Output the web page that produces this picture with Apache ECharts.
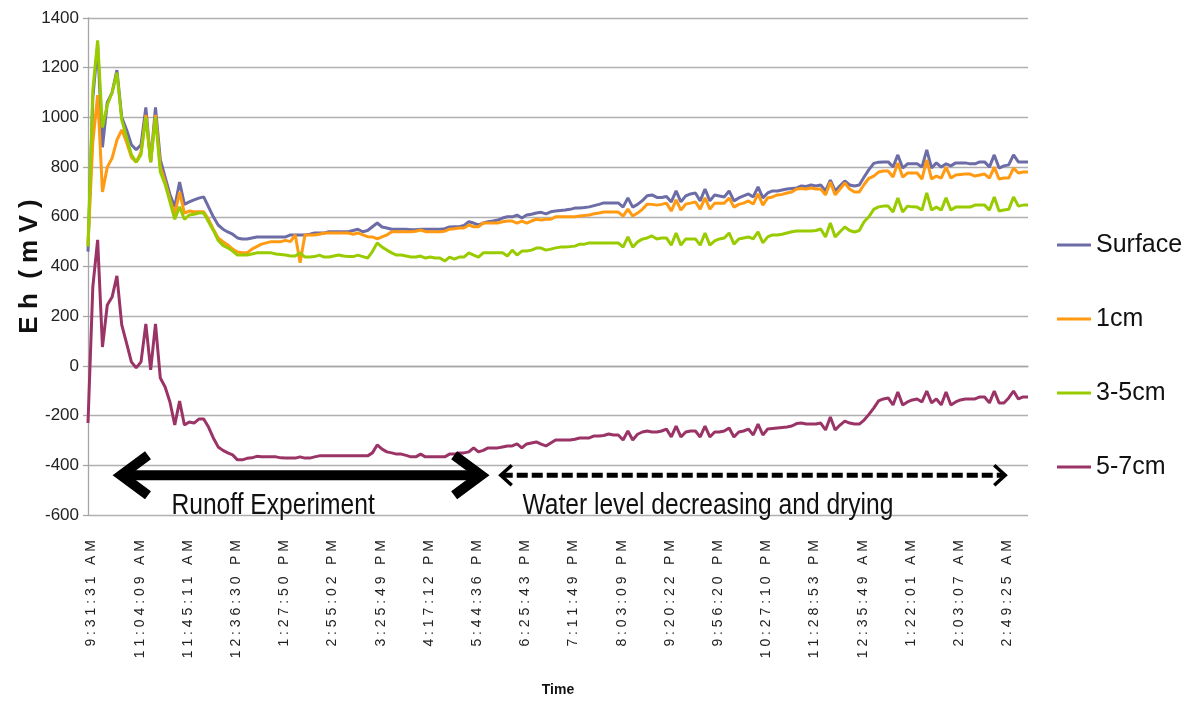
<!DOCTYPE html>
<html>
<head>
<meta charset="utf-8">
<script src="https://cdn.jsdelivr.net/npm/echarts@6/dist/echarts.min.js"></script>
<style>
  html, body { margin: 0; padding: 0; background: #fff; }
  #chart { width: 1190px; height: 702px; }
</style>
</head>
<body>
<div id="chart"></div>
<script>
// Time stamps shown under every 10th reading
const tickLabels = [
  "9:31:31 AM", "11:04:09 AM", "11:45:11 AM", "12:36:30 PM", "1:27:50 PM",
  "2:55:02 PM", "3:25:49 PM", "4:17:12 PM", "5:44:36 PM", "6:25:43 PM",
  "7:11:49 PM", "8:03:09 PM", "9:20:22 PM", "9:56:20 PM", "10:27:10 PM",
  "11:28:53 PM", "12:35:49 AM", "1:22:01 AM", "2:03:07 AM", "2:49:25 AM"
];

const seriesNames = ["Surface", "1cm", "3-5cm", "5-7cm"];

// Eh readings (mV), one per logged time step
const surface = [
  460, 1080, 1290, 880, 1060, 1100, 1190, 1000, 950, 890,
  870, 890, 1040, 820, 1040, 830, 760, 690, 640, 740,
  650, 660, 668, 675, 680, 640, 600, 567, 550, 539,
  530, 515, 511, 511, 515, 519, 519, 519, 519, 519,
  519, 519, 527, 527, 527, 527, 530, 535, 535, 535,
  540, 540, 540, 540, 540, 545, 550, 540, 545, 560,
  575, 559, 555, 550, 550, 550, 550, 548, 548, 550,
  550, 550, 550, 550, 552, 559, 560, 560, 565, 580,
  575, 567, 575, 580, 583, 587, 595, 600, 600, 607,
  595, 607, 610, 615, 618, 612, 620, 623, 625, 627,
  630, 635, 635, 637, 640, 645, 650, 656, 656, 656,
  656, 639, 676, 639, 650, 665, 685, 688, 678, 678,
  682, 660, 704, 660, 684, 692, 696, 664, 712, 664,
  688, 684, 680, 704, 664, 676, 684, 692, 680, 720,
  676, 696, 704, 704, 708, 712, 714, 716, 724, 722,
  728, 724, 728, 704, 748, 704, 725, 744, 728, 724,
  728, 760, 790, 815, 820, 821, 821, 800, 849, 796,
  813, 813, 813, 800, 869, 796, 817, 800, 813, 805,
  817, 817, 817, 813, 813, 821, 821, 800, 849, 796,
  805, 809, 849, 821, 821, 821
];

const cm1 = [
  490, 900, 1090, 700, 800, 836, 909, 950, 900, 840,
  820, 860, 1010, 820, 1010, 800, 740, 670, 610, 700,
  615, 623, 620, 620, 620, 590, 550, 515, 500, 487,
  470, 458, 455, 455, 470, 480, 490, 495, 500, 500,
  500, 505, 500, 527, 415, 527, 527, 527, 530, 535,
  535, 535, 535, 535, 535, 530, 535, 527, 520, 519,
  511, 519, 527, 540, 540, 540, 540, 540, 542, 547,
  540, 540, 540, 540, 542, 550, 552, 555, 555, 567,
  560, 560, 575, 575, 575, 575, 580, 583, 583, 575,
  583, 575, 583, 590, 587, 590, 590, 600, 600, 600,
  600, 600, 603, 605, 607, 612, 615, 619, 619, 619,
  619, 603, 631, 603, 615, 630, 651, 650, 647, 650,
  655, 623, 668, 627, 651, 655, 660, 631, 676, 631,
  655, 655, 655, 676, 639, 650, 655, 664, 651, 692,
  647, 676, 680, 688, 690, 696, 700, 712, 714, 712,
  716, 712, 712, 688, 740, 688, 712, 736, 712, 700,
  700, 730, 755, 764, 780, 784, 784, 760, 817, 760,
  776, 776, 776, 752, 829, 752, 764, 756, 800, 756,
  768, 770, 772, 772, 764, 768, 772, 756, 800, 752,
  756, 756, 796, 776, 780, 780
];

const cm3to5 = [
  480, 1110, 1310, 960, 1050, 1100, 1180, 990, 920, 850,
  820, 850, 1000, 820, 1000, 780, 730, 660, 590, 640,
  590, 607, 610, 615, 615, 580, 545, 505, 485, 475,
  462, 446, 446, 446, 450, 455, 455, 455, 455, 450,
  448, 446, 442, 442, 455, 438, 438, 440, 446, 438,
  438, 442, 446, 442, 440, 440, 446, 440, 434, 460,
  495, 478, 466, 455, 446, 446, 442, 438, 438, 442,
  434, 438, 434, 434, 422, 438, 430, 438, 438, 455,
  446, 438, 455, 455, 455, 455, 455, 442, 466, 446,
  462, 462, 466, 474, 474, 466, 470, 475, 478, 478,
  480, 482, 490, 490, 495, 495, 495, 495, 495, 495,
  495, 478, 519, 478, 499, 510, 515, 523, 511, 515,
  515, 486, 535, 486, 511, 511, 511, 486, 535, 486,
  503, 511, 515, 535, 490, 511, 515, 519, 511, 539,
  495, 519, 527, 527, 530, 535, 540, 543, 543, 543,
  543, 545, 551, 519, 575, 519, 540, 559, 545, 539,
  545, 580, 600, 630, 640, 643, 643, 619, 676, 619,
  643, 640, 639, 627, 696, 627, 639, 627, 676, 627,
  639, 639, 639, 639, 647, 647, 647, 627, 680, 623,
  627, 630, 680, 643, 647, 647
];

const cm5to7 = [
  -230, 318, 507, 76, 245, 277, 362, 165, 92, 16,
  -8, 16, 169, -16, 169, -49, -85, -145, -238, -141,
  -238, -226, -230, -214, -214, -246, -290, -326, -340, -350,
  -358, -378, -378, -372, -370, -364, -366, -366, -366, -366,
  -370, -371, -371, -371, -366, -371, -371, -366, -362, -362,
  -362, -362, -362, -362, -362, -362, -362, -362, -362, -350,
  -318, -335, -346, -350, -355, -355, -360, -366, -366, -355,
  -366, -366, -366, -366, -366, -355, -355, -350, -350, -346,
  -330, -346, -340, -330, -330, -330, -326, -322, -322, -314,
  -330, -314, -310, -306, -315, -322, -310, -298, -298, -298,
  -298, -295, -290, -290, -290, -282, -282, -280, -274, -278,
  -278, -298, -262, -298, -275, -266, -262, -266, -266, -262,
  -254, -286, -242, -286, -266, -262, -262, -286, -242, -286,
  -266, -266, -262, -250, -286, -266, -262, -254, -278, -234,
  -278, -254, -252, -250, -248, -246, -242, -232, -230, -234,
  -234, -234, -230, -258, -206, -258, -238, -222, -230, -234,
  -234, -218, -195, -170, -141, -133, -129, -157, -105, -157,
  -145, -137, -133, -145, -101, -149, -133, -157, -105, -157,
  -145, -137, -133, -133, -133, -125, -125, -149, -101, -149,
  -149, -129, -101, -133, -125, -125
];

const seriesData = [surface, cm1, cm3to5, cm5to7];
const colors = ["#6c6ca6", "#ff9a12", "#99cc00", "#9a3366"];

// Category positions: one per reading, labelled every 10th step
const categories = surface.map((_, i) => String(i));
const labelStep = 10;

const sans = "'Liberation Sans', Arial, sans-serif";

// open up the tick stamps: characters set apart, a wider gap before AM/PM
function spaced(s) {
  return s.split(" ").map(w => w.split("").join(" ")).join("   ");
}

const chart = echarts.init(document.getElementById("chart"), null, { renderer: "canvas" });

const option = {
  animation: false,
  backgroundColor: "#ffffff",
  grid: { left: 88, right: 162, top: 18, bottom: 187, containLabel: false, outerBoundsMode: "none" },
  legend: {
    orient: "vertical",
    left: 1057,
    top: 232,
    padding: 0,
    icon: "rect",
    itemWidth: 34,
    itemHeight: 3,
    itemGap: 48,
    data: seriesNames,
    textStyle: { fontFamily: sans, fontSize: 25, color: "#111", lineHeight: 26 }
  },
  xAxis: {
    type: "category",
    data: categories,
    boundaryGap: false,
    name: "Time",
    nameLocation: "middle",
    nameGap: 168,
    nameMoveOverlap: false,
    nameTextStyle: { fontFamily: sans, fontSize: 14, fontWeight: "bold", color: "#111" },
    axisLine: { show: true, lineStyle: { color: "#a6a6a6", width: 1.3 } },
    axisTick: { show: false },
    axisLabel: {
      interval: labelStep - 1,
      rotate: 90,
      margin: 25,
      verticalAlign: "top",
      lineHeight: 7,
      fontFamily: sans,
      fontSize: 14,
      color: "#222",
      formatter: (v, idx) => {
        const k = idx / labelStep;
        return Number.isInteger(k) && tickLabels[k] ? spaced(tickLabels[k]) : "";
      }
    },
    splitLine: { show: false }
  },
  yAxis: {
    type: "value",
    min: -600,
    max: 1400,
    interval: 200,
    name: "E h  ( m V )",
    nameLocation: "middle",
    nameGap: 45,
    nameRotate: 90,
    nameMoveOverlap: false,
    nameTextStyle: { fontFamily: sans, fontSize: 26, fontWeight: "bold", color: "#111" },
    axisLine: { show: true, lineStyle: { color: "#a6a6a6", width: 1.3 } },
    axisTick: { show: true, length: 5, lineStyle: { color: "#a6a6a6", width: 1.3 } },
    axisLabel: { fontFamily: sans, fontSize: 17, color: "#222", margin: 9, formatter: v => String(v) },
    splitLine: { show: true, lineStyle: { color: "#b0b0b0", width: 1.3 } }
  },
  series: seriesNames.map((name, k) => ({
    name,
    type: "line",
    data: seriesData[k],
    showSymbol: false,
    symbol: "none",
    smooth: false,
    color: colors[k],
    lineStyle: { width: 3, color: colors[k] },
    z: 2 + k
  }))
};

chart.setOption(option);

// Phase annotations, placed in reading-index / mV units
const runoffSpan = [5.6, 82.8];
const dryingSpan = [85.0, 190.9];
const arrowLevel = -440;
const runoffCaptionAt = 38.4;
const dryingCaptionAt = 128.6;
const captionLevel = -562;
const condense = 0.82;

function px(i, v) {
  const n = categories.length - 1;
  const a = chart.convertToPixel({ gridIndex: 0 }, [0, v]);
  const b = chart.convertToPixel({ gridIndex: 0 }, [n, v]);
  return [a[0] + (b[0] - a[0]) * i / n, a[1]];
}

function chevron(tip, dir, len, half, width) {
  return {
    type: "polyline",
    shape: { points: [[tip[0] + dir * len, tip[1] - half], tip, [tip[0] + dir * len, tip[1] + half]] },
    style: { stroke: "#000", lineWidth: width, fill: null, lineJoin: "miter", lineCap: "butt", miterLimit: 10 },
    z: 20
  };
}

function caption(pos, text) {
  return {
    type: "text",
    x: pos[0], y: pos[1],
    scaleX: condense,
    style: { text, fontFamily: sans, fontSize: 30, fill: "#111", align: "center", verticalAlign: "middle" },
    z: 20
  };
}

const r0 = px(runoffSpan[0], arrowLevel), r1 = px(runoffSpan[1], arrowLevel);
const d0 = px(dryingSpan[0], arrowLevel), d1 = px(dryingSpan[1], arrowLevel);
const rc = px(runoffCaptionAt, captionLevel);
const dc = px(dryingCaptionAt, captionLevel);

chart.setOption({
  graphic: [
    {
      type: "line",
      shape: { x1: r0[0] + 6, y1: r0[1], x2: r1[0] - 6, y2: r1[1] },
      style: { stroke: "#000", lineWidth: 10 },
      z: 20
    },
    chevron([r0[0] + 6, r0[1]], 1, 27, 20, 10),
    chevron([r1[0] - 6, r1[1]], -1, 27, 20, 10),
    {
      type: "line",
      shape: { x1: d0[0] + 4, y1: d0[1], x2: d1[0] - 4, y2: d1[1] },
      style: { stroke: "#000", lineWidth: 5, lineDash: [11, 4] },
      z: 20
    },
    chevron([d0[0] + 3, d0[1]], 1, 11, 10, 3.5),
    chevron([d1[0] - 3, d1[1]], -1, 11, 10, 3.5),
    caption(rc, "Runoff Experiment"),
    caption(dc, "Water level decreasing and drying")
  ]
});
</script>
</body>
</html>
